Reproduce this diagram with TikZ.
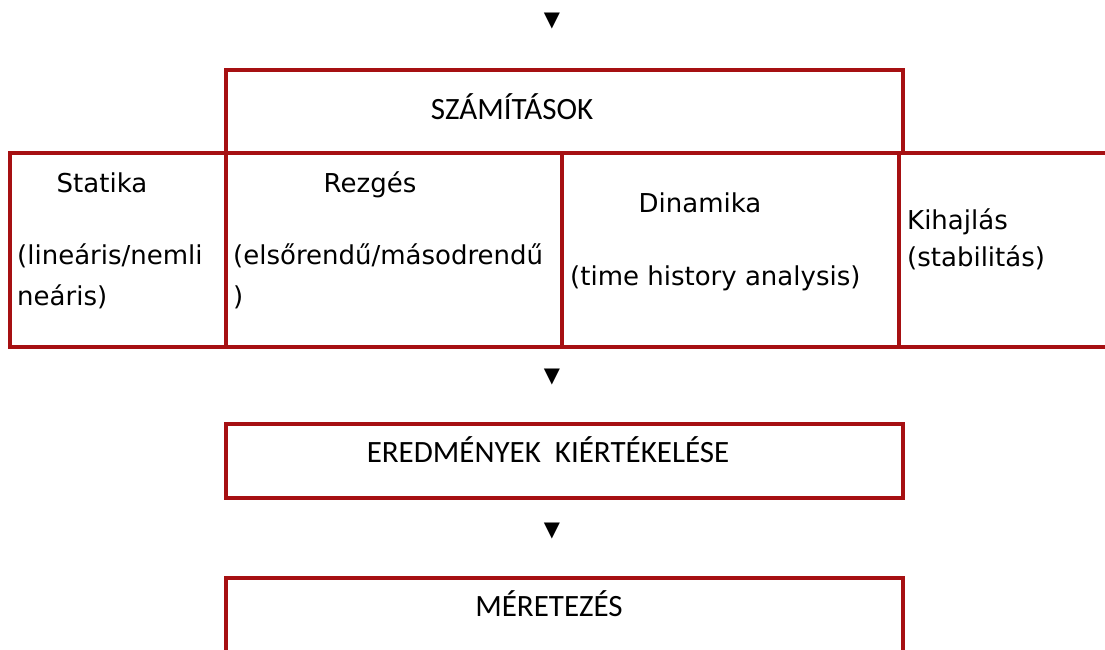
\documentclass[tikz,border=0pt]{standalone}
\usepackage{fontspec}
\setmainfont{DejaVu Sans}
\newfontfamily\capsfont{Carlito}
\definecolor{boxred}{RGB}{166,16,18}

\begin{document}
\begin{tikzpicture}[%
    x=1pt, y=-1pt,
    frame/.style={draw=boxred, line width=4pt},
    celltext/.style={font=\fontsize{26}{30}\selectfont, inner sep=0pt},
    title/.style={font=\capsfont\fontsize{31}{36}\selectfont, inner sep=0pt},
    pointer/.style={font=\fontsize{21}{21}\selectfont, inner sep=0pt}]
  \useasboundingbox (0,0) rectangle (1105,650);
  \draw[frame] (226,347) -- (226,70) -- (903,70) -- (903,153);
  \draw[frame] (1105,153) -- (10,153) -- (10,347) -- (1105,347);
  \draw[frame] (562,153) -- (562,347);
  \draw[frame] (899,153) -- (899,347);
  \draw[frame] (226,424) rectangle (903,498);
  \draw[frame] (226,650) -- (226,578) -- (903,578) -- (903,650);
  \node[pointer] (arrow1) at (552,21) {▼};
  \node[title, anchor=base] (szamitasok) at (512,120) {SZÁMÍTÁSOK};
  \node[celltext, anchor=base] (statika) at (102,192) {Statika};
  \node[celltext, anchor=base west] (statikaA) at (17,264) {(lineáris/nemli};
  \node[celltext, anchor=base west] (statikaB) at (17,305) {neáris)};
  \node[celltext, anchor=base] (rezges) at (370,192) {Rezgés};
  \node[celltext, anchor=base west] (rezgesA) at (233,264) {(elsőrendű/másodrendű};
  \node[celltext, anchor=base west] (rezgesB) at (233,305) {)};
  \node[celltext, anchor=base] (dinamika) at (700,212) {Dinamika};
  \node[celltext, anchor=base west] (dinamikaA) at (570,285) {(time history analysis)};
  \node[celltext, anchor=base west] (kihajlas) at (907,229) {Kihajlás};
  \node[celltext, anchor=base west] (kihajlasA) at (907,266) {(stabilitás)};
  \node[pointer] (arrow2) at (552,377) {▼};
  \node[title, anchor=base] (eredmenyek) at (548,462) {EREDMÉNYEK\ \ KIÉRTÉKELÉSE};
  \node[pointer] (arrow3) at (552,531) {▼};
  \node[title, anchor=base] (meretezes) at (549,616) {MÉRETEZÉS};
\end{tikzpicture}
\end{document}
